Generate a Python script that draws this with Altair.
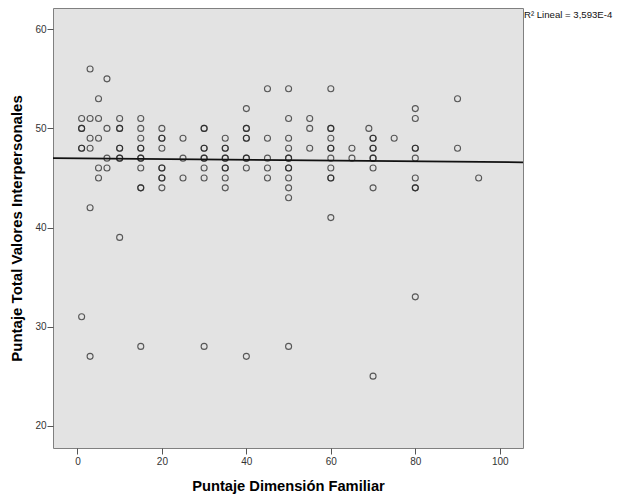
import altair as alt
import pandas as pd

# Puntaje Dimensión Familiar (x) and Puntaje Total Valores Interpersonales (y)
x_vals = [3, 7, 45, 50, 60, 5, 90, 40, 80,
          1, 3, 5, 10, 15, 50, 55, 80,
          1, 1, 7, 10, 10, 15, 20, 30, 30, 40, 40, 55, 60, 60, 69,
          3, 5, 15, 20, 20, 25, 35, 40, 40, 45, 50, 60, 70, 70, 75,
          1, 1, 3, 10, 10, 15, 15, 20, 30, 30, 35, 35, 50, 55, 60, 60, 65, 70, 70, 80, 80, 90,
          7, 10, 10, 15, 15, 25, 30, 30, 35, 35, 40, 40, 45, 50, 50, 60, 65, 70, 70, 80,
          5, 7, 15, 20, 20, 30, 35, 35, 40, 45, 50, 50, 60, 70,
          5, 20, 20, 25, 30, 35, 45, 50, 60, 60, 80, 95,
          15, 15, 20, 35, 50, 70, 80, 80,
          50, 3, 60, 10, 80, 1, 15, 30, 50, 3, 40, 70]
y_vals = [56, 55, 54, 54, 54, 53, 53, 52, 52,
          51, 51, 51, 51, 51, 51, 51, 51,
          50, 50, 50, 50, 50, 50, 50, 50, 50, 50, 50, 50, 50, 50, 50,
          49, 49, 49, 49, 49, 49, 49, 49, 49, 49, 49, 49, 49, 49, 49,
          48, 48, 48, 48, 48, 48, 48, 48, 48, 48, 48, 48, 48, 48, 48, 48, 48, 48, 48, 48, 48, 48,
          47, 47, 47, 47, 47, 47, 47, 47, 47, 47, 47, 47, 47, 47, 47, 47, 47, 47, 47, 47,
          46, 46, 46, 46, 46, 46, 46, 46, 46, 46, 46, 46, 46, 46,
          45, 45, 45, 45, 45, 45, 45, 45, 45, 45, 45, 45,
          44, 44, 44, 44, 44, 44, 44, 44,
          43, 42, 41, 39, 33, 31, 28, 28, 28, 27, 27, 25]

# linear fit line, end points
fit_x = [-5.78, 105.5]
fit_y = [47.0, 46.58]

x_ticks = [0, 20, 40, 60, 80, 100]
y_ticks = [20, 30, 40, 50, 60]
r2_label = "R² Lineal = 3,593E-4"

df = pd.DataFrame({"x": x_vals, "y": y_vals})
fit_df = pd.DataFrame({"x": fit_x, "y": fit_y})

W, H = 470, 440
x_dom = [-5.78, 105.5]
y_dom = [17.75, 62.15]

xs = alt.Scale(domain=x_dom, nice=False, zero=False)
ys = alt.Scale(domain=y_dom, nice=False, zero=False)

x_axis = alt.Axis(values=x_ticks, title="Puntaje Dimensión Familiar", domain=False,
                  grid=False, tickSize=6, tickColor="#555555", labelColor="#333333",
                  labelFontSize=10, labelFont="Liberation Sans", labelPadding=2,
                  titleFont="Liberation Sans", titleFontSize=14.7, titleFontWeight="bold",
                  titleColor="#000000", titlePadding=12)
y_axis = alt.Axis(values=y_ticks, title="Puntaje Total Valores Interpersonales", domain=False,
                  grid=False, tickSize=6, tickColor="#555555", labelColor="#333333",
                  labelFontSize=10, labelFont="Liberation Sans", labelPadding=1,
                  titleFont="Liberation Sans", titleFontSize=15, titleFontWeight="bold",
                  titleColor="#000000", titlePadding=10)

points = alt.Chart(df).mark_point(shape="circle", filled=False, size=36, strokeWidth=1.1,
                                  color="#222222", opacity=0.72).encode(
    x=alt.X("x:Q", scale=xs, axis=x_axis),
    y=alt.Y("y:Q", scale=ys, axis=y_axis),
)

line = alt.Chart(fit_df).mark_line(color="#111111", strokeWidth=1.8, clip=True).encode(
    x=alt.X("x:Q", scale=xs),
    y=alt.Y("y:Q", scale=ys),
)

ann = alt.Chart(pd.DataFrame({"t": [r2_label]})).mark_text(
    align="left", baseline="alphabetic", fontSize=9.6, font="Liberation Sans",
    color="#111111").encode(
    text="t:N", x=alt.value(W + 1), y=alt.value(10))

chart = alt.layer(points, line, ann).properties(
    width=W, height=H,
    autosize=alt.AutoSizeParams(type="none"),
    padding={"left": 45, "top": 0, "right": 93, "bottom": 47},
).configure_view(stroke="#808080", strokeWidth=1, fill="#E3E3E3")

chart.save("out.html", embed_options={"renderer": "svg", "actions": False})
